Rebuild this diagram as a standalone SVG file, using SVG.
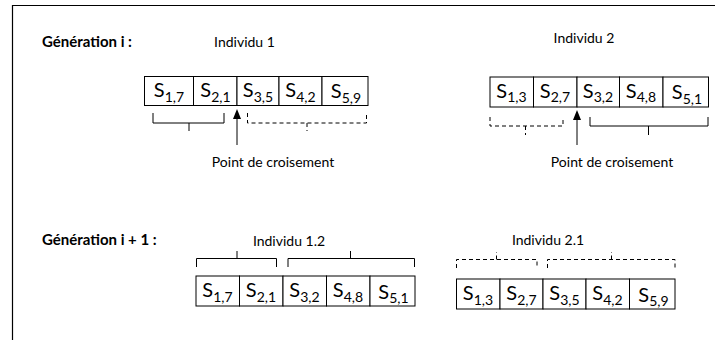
<svg xmlns="http://www.w3.org/2000/svg" width="715" height="340" viewBox="0 0 715 340">
<style>
text{font-family:Lato,"Open Sans","Liberation Sans",sans-serif;fill:#000}
.lbl{font-size:14px}
.gen{font-size:15px;font-weight:bold}
.cell{fill:#fff;stroke:#000;stroke-width:1}
.s{font-size:20px;text-anchor:middle}
.sub{font-size:14px}
.br{fill:none;stroke:#000;stroke-width:1}
.dash{stroke-dasharray:4 3}
.frame{stroke:#000;fill:none}
</style>
<g id="frame">
<line class="frame" x1="12" y1="5.5" x2="715" y2="5.5" stroke="#555"/>
<line class="frame" x1="12.5" y1="5" x2="12.5" y2="340" stroke-width="1.2"/>
</g>
<g id="gen-i"><text class="gen" x="42" y="47">Génération i :</text></g>
<g id="gen-i1"><text class="gen" x="42" y="245">Génération i + 1 :</text></g>
<g id="ind1">
<text class="lbl" x="244.5" y="47" text-anchor="middle">Individu 1</text>
<rect class="cell" x="144.5" y="76.5" width="49" height="29"/>
<rect class="cell" x="193.5" y="76.5" width="43.5" height="29"/>
<rect class="cell" x="237" y="76.5" width="42" height="29"/>
<rect class="cell" x="279" y="76.5" width="43" height="29"/>
<rect class="cell" x="322" y="76.5" width="46" height="29"/>
<text class="s" x="169" y="97">S<tspan class="sub" dy="4.5">1,7</tspan></text>
<text class="s" x="215.5" y="97">S<tspan class="sub" dy="4.5">2,1</tspan></text>
<text class="s" x="258" y="97">S<tspan class="sub" dy="4.5">3,5</tspan></text>
<text class="s" x="300.5" y="97">S<tspan class="sub" dy="4.5">4,2</tspan></text>
<text class="s" x="346" y="98">S<tspan class="sub" dy="4.5">5,9</tspan></text>
</g>
<g id="ind1-brackets">
<path class="br" d="M153,113 V123 H224 V113 M189,123 V131"/>
<path class="br dash" d="M247.5,113 V123 H366.5 V113 M307,123 V131"/>
</g>
<g id="ind2">
<text class="lbl" x="584" y="43" text-anchor="middle">Individu 2</text>
<rect class="cell" x="490" y="77" width="43.5" height="30"/>
<rect class="cell" x="533.5" y="77" width="43.5" height="30"/>
<rect class="cell" x="577" y="77" width="42.5" height="30"/>
<rect class="cell" x="619.5" y="77" width="43.5" height="30"/>
<rect class="cell" x="663" y="77" width="45.5" height="30"/>
<text class="s" x="511.5" y="97.5">S<tspan class="sub" dy="4.5">1,3</tspan></text>
<text class="s" x="555" y="97.5">S<tspan class="sub" dy="4.5">2,7</tspan></text>
<text class="s" x="598" y="97.5">S<tspan class="sub" dy="4.5">3,2</tspan></text>
<text class="s" x="641" y="97.5">S<tspan class="sub" dy="4.5">4,8</tspan></text>
<text class="s" x="687" y="99">S<tspan class="sub" dy="4.5">5,1</tspan></text>
</g>
<g id="ind2-brackets">
<path class="br dash" d="M490,117 V126 H563 V117 M525.5,126 V135"/>
<path class="br" d="M590,117 V126 H708 V117 M648.5,126 V135"/>
</g>
<g id="ind12">
<text class="lbl" x="289" y="245.5" text-anchor="middle">Individu 1.2</text>
<rect class="cell" x="196" y="276" width="43.5" height="30"/>
<rect class="cell" x="239.5" y="276" width="43.5" height="30"/>
<rect class="cell" x="283" y="276" width="43.5" height="30"/>
<rect class="cell" x="326.5" y="276" width="43.5" height="30"/>
<rect class="cell" x="370" y="276" width="45" height="30"/>
<text class="s" x="217.5" y="297">S<tspan class="sub" dy="4.5">1,7</tspan></text>
<text class="s" x="261" y="297">S<tspan class="sub" dy="4.5">2,1</tspan></text>
<text class="s" x="304.5" y="297">S<tspan class="sub" dy="4.5">3,2</tspan></text>
<text class="s" x="348" y="297">S<tspan class="sub" dy="4.5">4,8</tspan></text>
<text class="s" x="393.5" y="298.5">S<tspan class="sub" dy="4.5">5,1</tspan></text>
</g>
<g id="ind12-brackets">
<path class="br" d="M196.5,267 V258.5 H276.5 V267 M237,258.5 V251"/>
<path class="br" d="M288,267 V258.5 H414.5 V267 M350.5,258.5 V251"/>
</g>
<g id="ind21">
<text class="lbl" x="548" y="245" text-anchor="middle">Individu 2.1</text>
<rect class="cell" x="456.5" y="279" width="43.5" height="30"/>
<rect class="cell" x="500" y="279" width="43" height="30"/>
<rect class="cell" x="543" y="279" width="43" height="30"/>
<rect class="cell" x="586" y="279" width="43.5" height="30"/>
<rect class="cell" x="629.5" y="279" width="45.5" height="30"/>
<text class="s" x="478" y="300">S<tspan class="sub" dy="4.5">1,3</tspan></text>
<text class="s" x="521.5" y="300">S<tspan class="sub" dy="4.5">2,7</tspan></text>
<text class="s" x="564.5" y="300">S<tspan class="sub" dy="4.5">3,5</tspan></text>
<text class="s" x="607.5" y="300">S<tspan class="sub" dy="4.5">4,2</tspan></text>
<text class="s" x="653.5" y="301.5">S<tspan class="sub" dy="4.5">5,9</tspan></text>
</g>
<g id="ind21-brackets">
<path class="br dash" d="M456.5,268 V259.5 H537 V268 M496.5,259.5 V252"/>
<path class="br dash" d="M547.5,268 V259.5 H675 V268 M611.5,259.5 V252"/>
</g>
<g id="connectors">
<line x1="237" y1="118" x2="237" y2="145" stroke="#000"/>
<polygon points="237,109 233,119 241,119" fill="#000"/>
<line x1="577" y1="119" x2="577" y2="145" stroke="#000"/>
<polygon points="577,110 573,120 581,120" fill="#000"/>
</g>
<g id="pc1"><text class="lbl" x="273" y="167" text-anchor="middle">Point de croisement</text></g>
<g id="pc2"><text class="lbl" x="612" y="167" text-anchor="middle">Point de croisement</text></g>
</svg>
